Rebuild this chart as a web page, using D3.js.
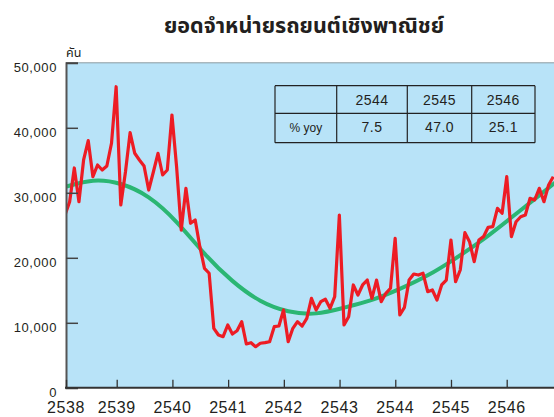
<!DOCTYPE html>
<html>
<head>
<meta charset="utf-8">
<script src="https://cdn.jsdelivr.net/npm/d3@7"></script>
<style>
  body { margin: 0; background: #fff; }
  svg { display: block; font-family: "Liberation Sans", Arial, sans-serif; }
</style>
</head>
<body>
<script>
// monthly sales (units), Jan 2538 onwards
const sales = [
  26580, 28630, 33820, 28630, 35050, 38020, 32480, 34280, 33510, 34120, 37620, 46320,
  28120, 33200, 39250, 36080, 35050, 34120, 30430, 33200, 36080, 32740, 33510, 41970,
  34000, 24270, 30690, 25310, 25820, 21710, 18380, 17620, 9150, 8120, 7860, 9660,
  8280, 8780, 10170, 6740, 6940, 6320, 6850, 6940, 7090, 9400, 9510, 11970,
  7090, 9150, 10170, 9500, 10690, 13770, 11970, 13250, 13620, 12230, 14020, 26580,
  9660, 10940, 15820, 14280, 15820, 16580, 13770, 16580, 13250, 14540, 15310, 23000,
  11200, 12380, 16580, 17510, 17350, 17620, 14790, 15050, 13510, 15820, 16580, 22740,
  16320, 18120, 23870, 22480, 19400, 22740, 23250, 24690, 24790, 27620, 26850, 32480,
  23250, 25550, 26320, 26580, 29150, 28890, 30690, 28630, 31200, 32480
];
// smooth trend, read every 6 months
const trendMonth = [0, 6, 12, 18, 24, 30, 36, 42, 48, 54, 60, 66, 72, 78, 84, 90, 96, 102, 108];
const trend = [30900, 31850, 31350, 29300, 25500, 20650, 16450, 13400, 11780, 11450,
  12320, 13520, 15210, 17300, 19920, 22870, 26200, 29610, 33050];

const years = [2538, 2539, 2540, 2541, 2542, 2543, 2544, 2545, 2546];
const yTicks = [0, 10000, 20000, 30000, 40000, 50000];
const tableYears = ["2544", "2545", "2546"];
const tableYoy = [7.5, 47.0, 25.1];

const title = "ยอดจำหน่ายรถยนต์เชิงพาณิชย์";
const unit = "คัน";

const W = 554, H = 417;
const plot = { left: 66, right: 554, top: 62.8, bottom: 387.8 };

const svg = d3.select("body").append("svg")
  .attr("width", W).attr("height", H);

const x = d3.scaleLinear().domain([0, 1]).range([65, 69.65]);
const xYear = d3.scaleLinear().domain([2538, 2539, 2546]).range([66, 116.7, 506.7]);
const y = d3.scaleLinear().domain([0, 50000]).range([plot.bottom, plot.top]);

svg.append("defs").append("clipPath").attr("id", "clip")
  .append("rect")
  .attr("x", plot.left).attr("y", plot.top - 5)
  .attr("width", plot.right - plot.left).attr("height", plot.bottom - plot.top + 5);

svg.append("rect")
  .attr("x", plot.left).attr("y", plot.top)
  .attr("width", plot.right - plot.left).attr("height", plot.bottom - plot.top)
  .attr("fill", "#b8e3f8");

svg.append("line")
  .attr("x1", plot.left).attr("x2", plot.right)
  .attr("y1", plot.top).attr("y2", plot.top)
  .attr("stroke", "#8a9aa2").attr("stroke-width", 1);

// title
svg.append("text")
  .attr("x", 304).attr("y", 33)
  .attr("text-anchor", "middle")
  .attr("font-family", "'Noto Sans Thai', 'Noto Sans', sans-serif")
  .attr("font-size", 21.5).attr("font-weight", "bold")
  .attr("fill", "#231f20")
  .text(title);

svg.append("text")
  .attr("x", 66).attr("y", 57)
  .attr("font-family", "'Noto Sans Thai', 'Noto Sans', sans-serif")
  .attr("font-size", 12.5).attr("fill", "#231f20")
  .text(unit);

// trend and sales lines
const g = svg.append("g").attr("clip-path", "url(#clip)");

g.append("path")
  .datum(trendMonth.map((m, i) => [m, trend[i]]))
  .attr("fill", "none")
  .attr("stroke", "#2bb673")
  .attr("stroke-width", 4)
  .attr("d", d3.line().x(d => x(d[0])).y(d => y(d[1])).curve(d3.curveNatural));

g.append("path")
  .datum(sales)
  .attr("fill", "none")
  .attr("stroke", "#ed1c24")
  .attr("stroke-width", 3.2)
  .attr("stroke-linejoin", "round")
  .attr("d", d3.line().x((d, i) => x(i)).y(d => y(d)));

// axes
const yAxis = svg.append("g")
  .attr("transform", `translate(${plot.left},0)`)
  .call(d3.axisRight(y).tickValues(yTicks).tickSize(12).tickFormat(() => ""));
yAxis.select(".domain").attr("stroke", "#555").attr("stroke-width", 2);
yAxis.selectAll(".tick line").attr("stroke", "#444").attr("stroke-width", 1.5);

svg.append("g").selectAll("text")
  .data(yTicks)
  .join("text")
  .attr("x", 57)
  .attr("y", d => y(d) + 5)
  .attr("dy", "0.35em")
  .attr("text-anchor", "end")
  .attr("font-size", 13)
  .attr("letter-spacing", 0.6)
  .attr("fill", "#231f20")
  .text(d => d3.format(",")(d));

const xAxis = svg.append("g")
  .attr("transform", `translate(0,${plot.bottom})`)
  .call(d3.axisTop(xYear).tickValues(years).tickSize(8).tickFormat(() => ""));
xAxis.select(".domain").remove();
xAxis.selectAll(".tick line").attr("stroke", "#333").attr("stroke-width", 1.3);

svg.append("line")
  .attr("x1", plot.left - 1).attr("x2", plot.right)
  .attr("y1", plot.bottom).attr("y2", plot.bottom)
  .attr("stroke", "#333").attr("stroke-width", 2);

svg.append("g").selectAll("text")
  .data(years)
  .join("text")
  .attr("x", d => xYear(d))
  .attr("y", 413)
  .attr("text-anchor", "middle")
  .attr("font-size", 16)
  .attr("letter-spacing", 0.6)
  .attr("fill", "#231f20")
  .text(d => d);

// yoy table
const colX = [275, 336.7, 407.3, 471.7, 535];
const rowY = [85.7, 113.3, 142.7];
const table = svg.append("g");

table.selectAll("line.v").data(colX).join("line")
  .attr("x1", d => d).attr("x2", d => d)
  .attr("y1", rowY[0]).attr("y2", rowY[2])
  .attr("stroke", "#222").attr("stroke-width", 1.2);
table.selectAll("line.h").data(rowY).join("line")
  .attr("x1", colX[0]).attr("x2", colX[4])
  .attr("y1", d => d).attr("y2", d => d)
  .attr("stroke", "#222").attr("stroke-width", 1.2);

table.selectAll("text.head").data(tableYears).join("text")
  .attr("x", (d, i) => (colX[i + 1] + colX[i + 2]) / 2)
  .attr("y", 105)
  .attr("text-anchor", "middle")
  .attr("font-size", 14).attr("letter-spacing", 0.5)
  .attr("fill", "#231f20")
  .text(d => d);

table.append("text")
  .attr("x", (colX[0] + colX[1]) / 2).attr("y", 132)
  .attr("text-anchor", "middle")
  .attr("font-size", 12).attr("fill", "#231f20")
  .text("% yoy");

table.selectAll("text.val").data(tableYoy).join("text")
  .attr("x", (d, i) => (colX[i + 1] + colX[i + 2]) / 2)
  .attr("y", 132)
  .attr("text-anchor", "middle")
  .attr("font-size", 14).attr("letter-spacing", 0.5)
  .attr("fill", "#231f20")
  .text(d => d.toFixed(1));
</script>
</body>
</html>
